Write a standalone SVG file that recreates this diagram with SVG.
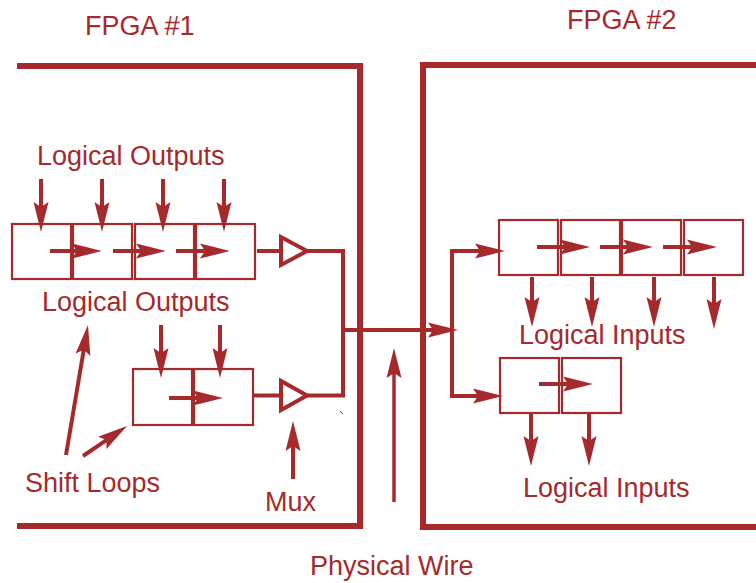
<svg xmlns="http://www.w3.org/2000/svg" width="756" height="583" viewBox="0 0 756 583">
<style>
text{font-family:"Liberation Sans",Arial,sans-serif;font-size:27px;fill:#a62a2c}
.frame{fill:none;stroke:#a62a2c;stroke-width:6}
.box{fill:none;stroke:#a62a2c;stroke-width:2.2}
.w{fill:none;stroke:#a62a2c;stroke-width:4}
.a{fill:none;stroke:#a62a2c;stroke-width:4;marker-end:url(#ah)}
.mux{fill:#fff;stroke:#a62a2c;stroke-width:4;stroke-linejoin:miter}
</style>
<defs>
<marker id="ah" markerUnits="userSpaceOnUse" markerWidth="30" markerHeight="15" refX="5" refY="7.5" orient="auto" overflow="visible">
<path d="M0,0 L30,7.5 L0,15 L5,7.5 z" fill="#a62a2c"/>
</marker>
</defs>
<rect width="756" height="583" fill="#fff"/>

<g id="fpga1">
<path class="frame" d="M17,66 H360 V526 H17"/>
<text x="85" y="35">FPGA #1</text>
</g>
<g id="fpga2">
<path class="frame" d="M756,65 H423 V527 H756"/>
<text x="567" y="29">FPGA #2</text>
</g>

<g id="reg1">
<rect class="box" x="12" y="224" width="59" height="55"/>
<rect class="box" x="73" y="224" width="59" height="55"/>
<rect class="box" x="135" y="224" width="59" height="55"/>
<rect class="box" x="196" y="224" width="59" height="55"/>
</g>
<g id="reg2">
<rect class="box" x="133" y="369" width="59" height="56"/>
<rect class="box" x="194" y="369" width="59" height="56"/>
</g>
<g id="mux1"><polygon class="mux" points="281,237 281,265 307,251"/></g>
<g id="mux2"><polygon class="mux" points="281,381 281,410 307,395.5"/></g>
<g id="reg3">
<rect class="box" x="499" y="220" width="59" height="55"/>
<rect class="box" x="561" y="220" width="59" height="55"/>
<rect class="box" x="622" y="220" width="59" height="55"/>
<rect class="box" x="684" y="220" width="59" height="55"/>
</g>
<g id="reg4">
<rect class="box" x="500" y="358" width="59" height="55"/>
<rect class="box" x="562" y="358" width="59" height="55"/>
</g>

<g id="connectors">
<line class="a" x1="41" y1="179" x2="41" y2="207"/>
<line class="a" x1="102" y1="179" x2="102" y2="207"/>
<line class="a" x1="163" y1="179" x2="163" y2="207"/>
<line class="a" x1="224" y1="179" x2="224" y2="207"/>
<line class="a" x1="50" y1="251" x2="77" y2="251"/>
<line class="a" x1="113" y1="251" x2="141" y2="251"/>
<line class="a" x1="176" y1="251" x2="205" y2="251"/>
<line class="a" x1="161" y1="325" x2="161" y2="353"/>
<line class="a" x1="220" y1="325" x2="220" y2="353"/>
<line class="a" x1="169" y1="398" x2="198" y2="398"/>
<line class="w" x1="257" y1="251" x2="281" y2="251"/>
<line class="w" x1="253" y1="395.5" x2="281" y2="395.5"/>
<path class="w" d="M307,251 H343 V395.5 H307"/>
<line class="a" x1="343" y1="330" x2="433" y2="330"/>
<polyline class="a" points="452,330 452,251 480,251"/>
<polyline class="a" points="452,330 452,396 478,396"/>
<line class="a" x1="537" y1="247" x2="565" y2="247"/>
<line class="a" x1="600" y1="247" x2="628" y2="247"/>
<line class="a" x1="663" y1="247" x2="692" y2="247"/>
<line class="a" x1="532" y1="277" x2="532" y2="302"/>
<line class="a" x1="592" y1="277" x2="592" y2="302"/>
<line class="a" x1="654" y1="277" x2="654" y2="302"/>
<line class="a" x1="714" y1="277" x2="714" y2="304"/>
<line class="a" x1="539" y1="384" x2="568" y2="384"/>
<line class="a" x1="531" y1="413" x2="531" y2="441"/>
<line class="a" x1="589" y1="413" x2="589" y2="441"/>
<line class="a" x1="66" y1="455" x2="83.8" y2="349.7"/>
<line class="a" x1="83" y1="456" x2="106.4" y2="440.1"/>
<line class="a" x1="293" y1="479" x2="293" y2="446"/>
<line class="a" x1="394" y1="502" x2="394" y2="373" style="stroke-width:3.5"/>
<line x1="340" y1="411" x2="343" y2="414" stroke="#a62a2c" stroke-width="1"/>
</g>

<g id="labels">
<text x="37" y="165">Logical Outputs</text>
<text x="42" y="311">Logical Outputs</text>
<text x="519" y="344">Logical Inputs</text>
<text x="523" y="497">Logical Inputs</text>
<text x="25" y="492">Shift Loops</text>
<text x="265" y="511">Mux</text>
<text x="310" y="575">Physical Wire</text>
</g>
</svg>
